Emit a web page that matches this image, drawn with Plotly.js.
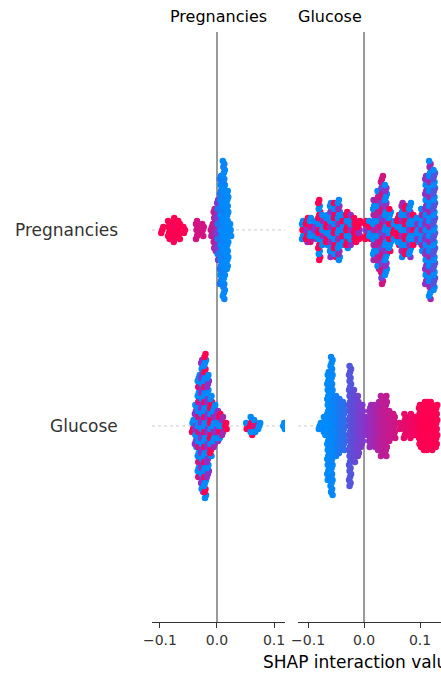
<!DOCTYPE html>
<html><head><meta charset="utf-8">
<script src="https://cdn.plot.ly/plotly-3.0.1.min.js"></script>
<style>body{margin:0}</style></head>
<body><div id="c" style="width:441px;height:680px"></div>
<script>
// Each bin: [shap value, half-height of swarm (px), colour value A, colour value B]
const features = ["Pregnancies", "Glucose"];
const pregRow_pregPanel = [
 [-0.096,3,1,1],[-0.084,8,1,1],[-0.075,11,1,0.95],[-0.067,9,1,1],[-0.058,4,1,1],
 [-0.035,8,0.8,0.8],[-0.025,7,0.8,0.8],
 [-0.009,6,0.75,0.7],[-0.004,22,0.7,0.6],[0.002,30,0.45,0.1],[0.007,55,0.1,0.0],
 [0.012,70,0,0.05],[0.018,40,0,0],[0.023,5,0,0]
];
const pregRow_gluPanel = [
 [-0.109,10,0,1],[-0.102,12,1,0.5],[-0.095,12,0,0.8],[-0.0875,10,0.5,0],[-0.080,30,1,0],
 [-0.073,14,0,0.6],[-0.066,16,1,0],[-0.059,26,0,0.5],[-0.052,28,1,0],[-0.045,30,0,0.6],
 [-0.0375,14,0,1],[-0.030,18,1,0],[-0.023,16,0,0.5],[-0.016,12,1,1],[-0.009,8,1,0.5],
 [0.004,10,1,0.5],[0.011,10,0,1],[0.018,30,0,0.6],[0.025,40,0.7,0],[0.032,55,0.8,0.4],
 [0.039,45,0,0.5],[0.046,20,0,1],[0.054,10,1,0],[0.061,14,1,0],[0.068,28,0,0.6],
 [0.075,24,1,0],[0.082,28,0,0.5],[0.089,16,0,1],[0.096,12,0,0.5],[0.104,20,0,0.6],
 [0.111,55,0.5,0],[0.118,70,0,0.6],[0.125,60,0.3,0]
];
const gluRow_pregPanel = [
 [-0.042,5,1,0],[-0.037,20,0.5,0],[-0.032,50,0,0.8],[-0.026,65,0.5,0],[-0.021,72,0,1],
 [-0.016,50,0.5,0],[-0.0105,30,1,0],[-0.005,22,0,0.6],[0,15,0.5,0],[0.005,12,0,1],
 [0.0105,8,0.6,0],[0.016,3,1,1],
 [0.053,4,0,1],[0.060,8,1,0],[0.067,7,0,0.8],[0.074,4,0,0],
 [0.118,3,0,0]
];
const gluRow_gluPanel = [
 [-0.079,4,0,0],[-0.070,10,0,0],[-0.064,55,0,0],[-0.058,70,0,0.02],[-0.050,30,0.05,0.05],
 [-0.043,28,0.1,0.1],[-0.036,25,0.15,0.15],[-0.025,60,0.3,0.3],[-0.018,35,0.35,0.35],
 [-0.011,30,0.4,0.4],[-0.004,20,0.45,0.45],[0.004,10,0.5,0.5],[0.011,20,0.55,0.55],
 [0.018,20,0.6,0.6],[0.025,25,0.65,0.65],[0.032,30,0.7,0.7],[0.039,30,0.72,0.72],
 [0.046,16,0.75,0.75],[0.054,12,0.78,0.78],[0.064,4,0.85,0.85],[0.073,12,0.9,0.9],
 [0.082,12,0.92,0.92],[0.091,8,0.95,0.95],[0.100,20,0.98,0.98],[0.107,25,1,1],
 [0.114,25,1,1],[0.121,25,1,1],[0.129,20,1,1]
];
const xTicks = [-0.1, 0.0, 0.1];
const xTickText = ["−0.1", "0.0", "0.1"];

const rowPx = 196, stepPx = 3;
function swarm(bins, row, xa, ya){
  const x=[],y=[],c=[];
  bins.forEach((b,j)=>{
    const k=Math.round(b[1]/stepPx);
    for(let i=-k;i<=k;i++){
      const m=((i+k)*7+j*3)%5;
      x.push(b[0]+(m-2)*0.0009);
      y.push(row+i*stepPx/rowPx);
      c.push((m%2)?b[3]:b[2]);
    }
  });
  return {type:'scatter',mode:'markers',x,y,xaxis:xa,yaxis:ya,
    marker:{size:6.5,color:c,cmin:0,cmax:1,
      colorscale:[[0,'rgb(0,138,251)'],[0.5,'rgb(140,50,200)'],[1,'rgb(255,0,82)']]},
    hoverinfo:'skip',showlegend:false};
}
const traces=[
  swarm(pregRow_pregPanel,2,'x','y'), swarm(gluRow_pregPanel,1,'x','y'),
  swarm(pregRow_gluPanel,2,'x2','y2'), swarm(gluRow_gluPanel,1,'x2','y2')
];
const shapes=[];
[['x','y'],['x2','y2']].forEach(([xa,ya])=>{
  [1,2].forEach(r=>shapes.push({type:'line',xref:xa+' domain',yref:ya,x0:0,x1:1,y0:r,y1:r,
    line:{color:'#ccc',width:1,dash:'dot'},layer:'below'}));
  shapes.push({type:'line',xref:xa,yref:ya+' domain',x0:0,x1:0,y0:0,y1:1,
    line:{color:'#999',width:2},layer:'below'});
});
const ax={showgrid:false,zeroline:false,showline:true,linecolor:'#333',linewidth:1,
  ticks:'outside',ticklen:5,tickcolor:'#333',tickvals:xTicks,ticktext:xTickText,
  tickfont:{family:'DejaVu Sans',size:14,color:'#333'}};
const yax={range:[0,3.01],showgrid:false,zeroline:false,showticklabels:false,showline:false};
const ann=features.map((f,i)=>({xref:'paper',yref:'y',x:120/441,y:2-i,xanchor:'right',
  text:f,showarrow:false,font:{family:'DejaVu Sans',size:17,color:'#333'}}));
ann.push({xref:'paper',yref:'paper',x:218.5/441,y:1,yshift:4,yanchor:'bottom',text:'Pregnancies',showarrow:false,font:{family:'DejaVu Sans',size:16,color:'#000'}});
ann.push({xref:'paper',yref:'paper',x:364/441,y:1,yshift:4,yanchor:'bottom',text:'Glucose',showarrow:false,font:{family:'DejaVu Sans',size:16,color:'#000'}});
ann.push({xref:'paper',yref:'paper',x:261/441,y:0,yshift:-28,yanchor:'top',xanchor:'left',text:'SHAP interaction value',showarrow:false,font:{family:'DejaVu Sans',size:17,color:'#000'}});
Plotly.newPlot('c',traces,{width:441,height:680,margin:{l:0,r:0,t:32,b:58},
  paper_bgcolor:'#fff',plot_bgcolor:'#fff',
  xaxis:Object.assign({domain:[152/441,285/441],range:[-0.114,0.1193]},ax),
  xaxis2:Object.assign({domain:[298/441,1],range:[-0.118,0.1375]},ax),
  yaxis:Object.assign({anchor:'x'},yax), yaxis2:Object.assign({anchor:'x2'},yax),
  shapes,annotations:ann},{staticPlot:true});
</script></body></html>
